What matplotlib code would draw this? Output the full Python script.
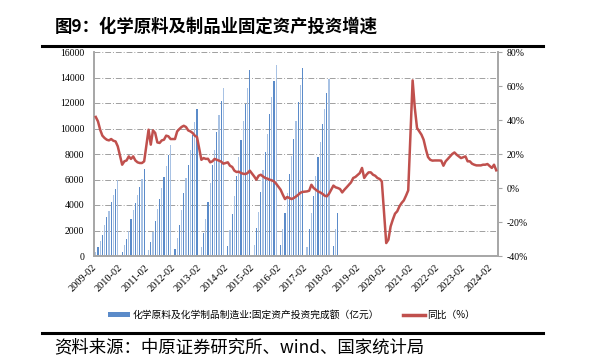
import numpy as np
import matplotlib
matplotlib.use('Agg')
import matplotlib.pyplot as plt
from matplotlib.lines import Line2D
from matplotlib.patches import Patch
from matplotlib.transforms import ScaledTranslation

plt.rcParams['font.family'] = ['Noto Sans CJK SC', 'DejaVu Sans']

# ── data ────────────────────────────────────────────────────────────────────
# cumulative investment, 亿元, Feb..Dec of each year (January not published)
INVEST = [
    290, 730, 1180, 1620, 2430, 3030, 3560, 4200, 4750, 5290, 5930,          # 2009
    310, 840, 1300, 1990, 2880, 3600, 4130, 4780, 5440, 6040, 6820,          # 2010
    470, 1100, 1850, 2750, 3700, 4480, 5300, 6160, 7060, 7910, 8740,         # 2011
    550, 1450, 2430, 3610, 4970, 6120, 7140, 8310, 9490, 10530, 11500,       # 2012
    680, 1830, 2900, 4210, 5750, 7140, 8310, 9750, 11030, 12150, 13200,      # 2013
    780, 2030, 3300, 4680, 6260, 7780, 9090, 10550, 11960, 13190, 14580,     # 2014
    860, 2170, 3470, 5040, 6730, 8170, 9530, 11120, 12480, 13700, 15000,     # 2015
    840, 2100, 3350, 4980, 6450, 7840, 9160, 10620, 12060, 13400, 14780,     # 2016
    730, 2090, 3400, 4730, 6270, 7740, 8920, 10330, 11560, 12760, 13880,     # 2017
    780, 2090, 3400,                                                         # 2018
]
# year-on-year growth, %
YOY = [
    41.8, 39.2, 34.3, 30.8, 29.4, 28.4, 28.0, 28.8, 27.8, 27.4, 24.5,        # 2009
    13.7, 15.7, 16.2, 18.6, 17.1, 18.6, 16.2, 15.1, 14.7, 14.7, 15.7,        # 2010
    34.3, 25.5, 33.9, 32.4, 26.8, 26.5, 28.0, 28.4, 30.8, 30.4, 28.8,        # 2011
    28.8, 33.3, 34.7, 35.9, 36.6, 35.9, 33.9, 33.3, 32.4, 30.8, 30.0,        # 2012
    16.6, 17.6, 17.1, 17.2, 15.1, 15.7, 17.1, 16.6, 16.1, 15.5, 14.3,        # 2013
    15.1, 13.1, 12.4, 10.2, 9.4, 9.6, 8.8, 8.4, 8.2, 8.8, 10.2,              # 2014
    6.8, 4.9, 7.2, 7.8, 6.8, 5.9, 5.5, 4.9, 4.5, 3.9, 2.5,                   # 2015
    -1.0, -3.9, -6.5, -5.3, -5.9, -6.5, -5.9, -5.0, -4.0, -2.8, -2.3,        # 2016
    -2.0, -1.6, 1.9, 0.0, -1.0, -2.0, -2.6, -3.4, -4.5, -4.9, -3.4,          # 2017
    1.4, 0.4, 0.0, -0.6, -2.6, -1.0, 0.4, 1.9, 3.3, 5.9, 6.5,                # 2018
    8.8, 11.8, 5.9, 7.8, 9.2, 9.2, 7.8, 7.2, 5.9, 5.3, 3.9,                  # 2019
    -32.4, -30.4, -22.6, -18.6, -15.1, -13.7, -10.8, -8.8, -7.3, -4.5, -1.4, # 2020
    63.3, 47.0, 35.3, 33.3, 31.4, 28.4, 22.9, 18.2, 16.6, 16.1, 16.2,        # 2021
    16.2, 16.1, 13.1, 15.7, 17.1, 18.6, 20.0, 20.9, 19.6, 18.6, 17.6,        # 2022
    18.6, 15.7, 15.7, 14.3, 13.7, 13.3, 13.3, 13.3, 13.7, 13.7, 14.1,        # 2023
    11.8, 13.7, 10.4,                                                        # 2024
]
X_LABELS = [f'{y}-02' for y in range(2009, 2025)]
LEFT_TICKS = list(range(0, 16001, 2000))
RIGHT_TICKS = list(range(-40, 81, 20))

TITLE = '图9：化学原料及制品业固定资产投资增速'
SOURCE = '资料来源：中原证券研究所、wind、国家统计局'
LBL_BAR = '化学原料及化学制品制造业:固定资产投资完成额（亿元）'
LBL_LINE = '同比（%）'

C_BAR = '#5b8bc9'
C_BAR_LIGHT = '#a8c2e4'   # thin bars render half light in the original
C_LINE = '#c0504d'
C_AXIS = '#a6a6a6'
W, H = 613, 355


def month_pos(last_year, last_month):
    """Month index from 2009-02, skipping January."""
    out = []
    for y in range(2009, last_year + 1):
        for m in range(2, 13):
            if y == last_year and m > last_month:
                break
            out.append((y - 2009) * 12 + (m - 2))
    return np.array(out)


x_bar = month_pos(2018, 4)
x_line = month_pos(2024, 4)
bar_cols = [C_BAR if i % 2 else C_BAR_LIGHT for i in range(len(x_bar))]

fig = plt.figure(figsize=(W / 100, H / 100), dpi=100)
ax = fig.add_axes([94 / W, 1 - 256 / H, (498 - 94) / W, (256 - 52) / H])

ax.bar(x_bar, INVEST, width=0.5, color=bar_cols, zorder=2)
ax.set_xlim(-0.8, 182.8)
ax.set_ylim(0, 16000)
ax.set_yticks(LEFT_TICKS)
ax.set_yticklabels([str(v) for v in LEFT_TICKS], family='Liberation Serif', fontsize=7)
ax.yaxis.grid(True, ls=(0, (6, 2, 1, 2)), color='#a0a0a0', lw=0.7, zorder=0)
ax.set_axisbelow(True)
ax.tick_params(axis='y', length=0, pad=7)

ax.set_xticks(range(0, 181, 12))
ax.set_xticklabels(X_LABELS, rotation=45, ha='right', va='top',
                   rotation_mode='anchor', family='Liberation Serif', fontsize=7.5)
ax.tick_params(axis='x', length=0, pad=5)
off = ScaledTranslation(-3 / 72, 0, fig.dpi_scale_trans)
for t in ax.get_xticklabels():
    t.set_transform(t.get_transform() + off)

ax2 = ax.twinx()
ax2.plot(x_line, YOY, color=C_LINE, lw=1.8, zorder=3)
ax2.set_ylim(-40, 80)
ax2.set_yticks(RIGHT_TICKS)
ax2.set_yticklabels([f'{v}%' for v in RIGHT_TICKS], family='Liberation Serif', fontsize=7)
ax2.tick_params(axis='y', length=3, width=0.8, color=C_AXIS, pad=3)

for a in (ax, ax2):
    a.spines['top'].set_visible(False)
    for s in ('left', 'right', 'bottom'):
        a.spines[s].set_color(C_AXIS)
        a.spines[s].set_linewidth(1.2)

handles = [Patch(facecolor=C_BAR, label=LBL_BAR),
           Line2D([], [], color=C_LINE, lw=2.5, label=LBL_LINE)]
fig.legend(handles=handles, loc='center', bbox_to_anchor=(0.476, 1 - 315 / H),
           ncol=2, frameon=False, fontsize=7, handlelength=2.2, handleheight=0.5,
           columnspacing=2.5, handletextpad=0.3)

# title, rules, source
fig.text(54.6 / W, 1 - 26.5 / H, TITLE, fontsize=12.5, fontweight='bold',
         ha='left', va='center')
fig.add_artist(Line2D([42 / W, 543 / W], [1 - 46 / H] * 2, color='black', lw=2.2,
                      transform=fig.transFigure))
fig.add_artist(Line2D([42 / W, 543 / W], [1 - 333 / H] * 2, color='black', lw=2.2,
                      transform=fig.transFigure))
fig.text(54.6 / W, 1 - 347.5 / H, SOURCE, fontsize=12.5, ha='left', va='center')

fig.savefig('out.png', dpi=100)
